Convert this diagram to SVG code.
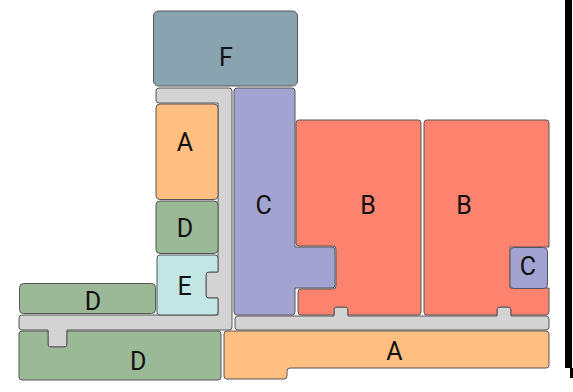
<svg xmlns="http://www.w3.org/2000/svg" width="573" height="392" viewBox="0 0 573 392">
<style>
.s{stroke:#555;stroke-width:1;stroke-linejoin:round}
.F{fill:#8aa3b0}.A{fill:#ffbf80}.B{fill:#fe836f}.C{fill:#a3a3d2}.D{fill:#9bb996}.E{fill:#c1e6e4}.G{fill:#d3d3d3}
text{font-family:Roboto,"Liberation Sans",sans-serif;font-size:25px;fill:#111;text-anchor:middle}
</style>
<rect x="0" y="0" width="573" height="392" fill="#fff"/>
<g id="corridor1"><path class="s G" d="M159,88 H229 Q232,88 232,91 V327 Q232,330 229,330 H67 V344 Q67,347 64,347 H51 Q48,347 48,344 V330 H22 Q19,330 19,327 V318 Q19,315 22,315 H218 V298 H209 Q206,298 206,295 V275 Q206,272 209,272 H218 V103 H159 Q156,103 156,100 V91 Q156,88 159,88 Z"/></g>
<g id="corridor2"><path class="s G" d="M238,316 H334 V310 Q334,307 337,307 H345 Q348,307 348,310 V316 H497 V310 Q497,307 500,307 H508 Q511,307 511,310 V316 H546 Q549,316 549,319 V327 Q549,330 546,330 H238 Q235,330 235,327 V319 Q235,316 238,316 Z"/></g>
<g id="nodeF"><rect class="s F" x="153.5" y="11" width="144" height="75" rx="5"/><text x="226" y="65.5">F</text></g>
<g id="nodeC1"><path class="s C" d="M237,88 H292 Q295,88 295,91 V247 H332 Q335,247 335,250 V285 Q335,288 332,288 H295 V312 Q295,315 292,315 H237 Q234,315 234,312 V91 Q234,88 237,88 Z"/><text x="263.7" y="214">C</text></g>
<g id="nodeB1"><path class="s B" d="M299,120 H418 Q421,120 421,123 V312 Q421,315 418,315 H348 V310 Q348,307 345,307 H337 Q334,307 334,310 V315 H301 Q298,315 298,312 V292 Q298,289 301,289 H333 Q336,289 336,286 V249 Q336,246 333,246 H299 Q296,246 296,243 V123 Q296,120 299,120 Z"/><text x="368" y="214">B</text></g>
<g id="nodeB2"><path class="s B" d="M427,120 H546 Q549,120 549,123 V247 H510 V288 H549 V312 Q549,315 546,315 H511 V310 Q511,307 508,307 H500 Q497,307 497,310 V315 H427 Q424,315 424,312 V123 Q424,120 427,120 Z"/><text x="464" y="214">B</text></g>
<g id="nodeC2"><rect class="s C" x="510" y="247.5" width="37.5" height="41" rx="4"/><text x="528" y="275">C</text></g>
<g id="nodeA1"><rect class="s A" x="156" y="104" width="62" height="95.5" rx="4"/><text x="184.8" y="150.7">A</text></g>
<g id="nodeD1"><rect class="s D" x="156" y="201" width="62" height="52.5" rx="4"/><text x="185" y="236.7">D</text></g>
<g id="nodeE"><path class="s E" d="M160,255 H215 Q218,255 218,258 V272 H209 Q206,272 206,275 V295 Q206,298 209,298 H218 V312 Q218,315 215,315 H160 Q157,315 157,312 V258 Q157,255 160,255 Z"/><text x="184.5" y="295">E</text></g>
<g id="nodeD2"><rect class="s D" x="19.5" y="283.5" width="136" height="30" rx="4"/><text x="93" y="310">D</text></g>
<g id="nodeD3"><path class="s D" d="M22,331 H48 V344 Q48,347 51,347 H64 Q67,347 67,344 V331 H218 Q221,331 221,334 V377 Q221,380 218,380 H22 Q19,380 19,377 V334 Q19,331 22,331 Z"/><text x="138.3" y="370">D</text></g>
<g id="nodeA2"><path class="s A" d="M227,331 H546 Q549,331 549,334 V365 Q549,368 546,368 H290 Q287,368 287,371 V376 Q287,379 284,379 H227 Q224,379 224,376 V334 Q224,331 227,331 Z"/><text x="394.3" y="360">A</text></g>
<rect x="565" y="0" width="7" height="368" fill="#000"/>
<rect x="570" y="368" width="3" height="10" fill="#000"/>
</svg>
